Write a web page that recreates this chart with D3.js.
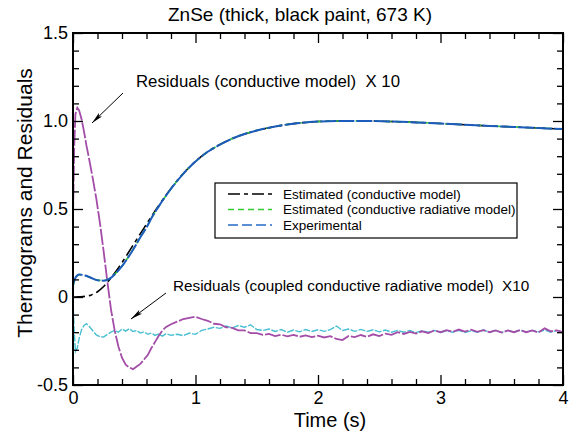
<!DOCTYPE html>
<html><head><meta charset="utf-8">
<script src="https://cdn.jsdelivr.net/npm/d3@7"></script>
<style>body{margin:0;background:#fff}svg{display:block}text{font-family:"Liberation Sans",Arial,sans-serif;white-space:pre}</style>
</head><body><svg id="c" width="575" height="433"></svg>
<script>
const titleText = "ZnSe (thick, black paint, 673 K)";
const xLabel = "Time (s)";
const yLabel = "Thermograms and Residuals";
const xMajor = [0, 1, 2, 3, 4];
const xMinor = [0.2,0.4,0.6,0.8,1.2,1.4,1.6,1.8,2.2,2.4,2.6,2.8,3.2,3.4,3.6,3.8];
const yMajor = [-0.5, 0, 0.5, 1.0, 1.5];
const yMajorLabels = ["-0.5", "0", "0.5", "1.0", "1.5"];
const yMinor = [-0.4,-0.3,-0.2,-0.1,0.1,0.2,0.3,0.4,0.6,0.7,0.8,0.9,1.1,1.2,1.3,1.4];

const tThermo = [0,0.02,0.05,0.1,0.15,0.2,0.25,0.3,0.35,0.4,0.45,0.5,0.55,0.6,0.65,0.7,0.8,0.9,1.0,1.1,1.2,1.3,1.4,1.5,1.6,1.7,1.8,1.9,2.0,2.2,2.4,2.6,2.8,3.0,3.2,3.4,3.6,3.8,4.0];
const experimental = [0.07,0.11,0.128,0.122,0.108,0.095,0.093,0.105,0.135,0.175,0.225,0.28,0.34,0.395,0.46,0.515,0.615,0.7,0.77,0.825,0.866,0.9,0.926,0.946,0.962,0.975,0.985,0.992,0.997,1.0,1.0,0.997,0.992,0.986,0.979,0.972,0.966,0.96,0.954];
const estCoupled = [0.06,0.105,0.126,0.121,0.108,0.096,0.094,0.106,0.136,0.176,0.226,0.281,0.34,0.396,0.46,0.515,0.615,0.7,0.77,0.825,0.866,0.9,0.926,0.946,0.962,0.975,0.985,0.992,0.997,1.0,1.0,0.997,0.992,0.986,0.979,0.972,0.966,0.96,0.954];
const estConductive = [0,0,0.001,0.004,0.012,0.03,0.06,0.1,0.145,0.195,0.25,0.305,0.36,0.414,0.468,0.52,0.617,0.701,0.771,0.826,0.867,0.9,0.926,0.946,0.962,0.975,0.985,0.992,0.997,1.0,1.0,0.997,0.992,0.986,0.979,0.972,0.966,0.96,0.954];

const tRes = [0,0.01,0.02,0.035,0.05,0.07,0.09,0.11,0.13,0.16,0.19,0.22,0.25,0.28,0.31,0.34,0.37,0.40,0.43,0.46,0.49,0.52,0.55,0.58,0.61,0.64,0.67,0.70,0.73,0.76,0.80,0.85,0.90,0.95,
1.00,1.05,1.10,1.15,1.20,1.25,1.30,1.35,1.40,1.45,1.50,1.55,1.60,1.65,1.70,1.75,1.80,1.85,1.90,1.95,2.00,2.05,2.10,2.15,2.20,2.25,2.30,2.35,2.40,2.45,2.50,2.55,2.60,2.65,2.70,2.75,2.80,2.85,2.90,2.95,3.00,3.05,3.10,3.15,3.20,3.25,3.30,3.35,3.40,3.45,3.50,3.55,3.60,3.65,3.70,3.75,3.80,3.85,3.90,3.95,4.00];
const resConductive = [0.45,0.86,1.04,1.075,1.06,1.01,0.94,0.86,0.79,0.68,0.56,0.42,0.26,0.09,-0.07,-0.19,-0.28,-0.345,-0.385,-0.40,-0.41,-0.395,-0.38,-0.355,-0.33,-0.29,-0.255,-0.22,-0.19,-0.17,-0.155,-0.14,-0.125,-0.118,
-0.112,-0.125,-0.135,-0.152,-0.155,-0.172,-0.175,-0.19,-0.19,-0.205,-0.205,-0.215,-0.21,-0.222,-0.214,-0.224,-0.215,-0.226,-0.218,-0.228,-0.22,-0.23,-0.222,-0.238,-0.245,-0.222,-0.228,-0.216,-0.226,-0.212,-0.222,-0.208,-0.215,-0.2,-0.21,-0.198,-0.208,-0.195,-0.205,-0.19,-0.2,-0.188,-0.198,-0.185,-0.196,-0.186,-0.198,-0.188,-0.2,-0.19,-0.202,-0.19,-0.2,-0.188,-0.2,-0.19,-0.202,-0.178,-0.195,-0.19,-0.2];
const resCoupled = [-0.02,-0.2,-0.31,-0.29,-0.235,-0.185,-0.162,-0.152,-0.165,-0.19,-0.215,-0.225,-0.228,-0.212,-0.2,-0.19,-0.2,-0.182,-0.194,-0.18,-0.196,-0.19,-0.205,-0.198,-0.212,-0.205,-0.218,-0.21,-0.222,-0.208,-0.218,-0.212,-0.22,-0.205,
-0.212,-0.19,-0.182,-0.172,-0.178,-0.165,-0.175,-0.162,-0.172,-0.158,-0.185,-0.19,-0.182,-0.196,-0.185,-0.2,-0.188,-0.198,-0.185,-0.196,-0.186,-0.195,-0.185,-0.165,-0.19,-0.182,-0.195,-0.184,-0.196,-0.186,-0.198,-0.188,-0.2,-0.19,-0.2,-0.19,-0.202,-0.192,-0.2,-0.19,-0.202,-0.192,-0.2,-0.19,-0.202,-0.192,-0.2,-0.188,-0.2,-0.19,-0.202,-0.19,-0.2,-0.188,-0.2,-0.19,-0.198,-0.188,-0.2,-0.19,-0.198];

const legendLabels = ["Estimated (conductive model)", "Estimated (conductive radiative model)", "Experimental"];
const note1 = "Residuals (conductive model)  X 10";
const note2 = "Residuals (coupled conductive radiative model)  X10";

const svg = d3.select("#c");
const L = 73, R = 563, T = 33, B = 385;
const x = d3.scaleLinear().domain([0, 4]).range([L, R]);
const y = d3.scaleLinear().domain([-0.5, 1.5]).range([B, T]);

const defs = svg.append("defs");
defs.append("clipPath").attr("id","clip").append("rect").attr("x",L).attr("y",T).attr("width",R-L).attr("height",B-T);
defs.append("marker").attr("id","arr").attr("viewBox","0 0 12 6").attr("refX",12).attr("refY",3)
  .attr("markerWidth",12).attr("markerHeight",6).attr("markerUnits","userSpaceOnUse").attr("orient","auto")
  .append("path").attr("d","M0,0.6 L12,3 L0,5.4 L2.5,3 Z").attr("fill","#000");

const g = svg.append("g").attr("clip-path","url(#clip)");
const mk = (ts, vs, c) => d3.line().x((d,i)=>x(ts[i])).y(d=>y(d)).curve(c || d3.curveMonotoneX)(vs);

g.append("path").attr("d", mk(tRes, resCoupled, d3.curveLinear)).attr("fill","none").attr("stroke","#46bfd2").attr("stroke-width",1.4).attr("stroke-dasharray","7,1.5");
g.append("path").attr("d", mk(tRes, resConductive, d3.curveLinear)).attr("fill","none").attr("stroke","#a34ca8").attr("stroke-width",1.8).attr("stroke-dasharray","16,2");
g.append("path").attr("d", mk(tThermo, estConductive)).attr("fill","none").attr("stroke","#000").attr("stroke-width",1.6).attr("stroke-dasharray","12,4,4,4");
g.append("path").attr("d", mk(tThermo, estCoupled)).attr("fill","none").attr("stroke","#33cc33").attr("stroke-width",1.6).attr("stroke-dasharray","6,4");
g.append("path").attr("d", mk(tThermo, experimental)).attr("fill","none").attr("stroke","#1d5cbc").attr("stroke-width",2).attr("stroke-dasharray","16,2");

function styleAxis(sel){ sel.select(".domain").remove(); sel.selectAll("line").attr("stroke","#000").attr("stroke-width",1.3);
  sel.selectAll("text").attr("font-size",18).attr("fill","#000"); }
svg.append("g").attr("transform",`translate(0,${B})`).call(d3.axisBottom(x).tickValues(xMajor).tickSize(-10).tickPadding(6).tickFormat(d3.format("d"))).call(styleAxis);
svg.append("g").attr("transform",`translate(0,${B})`).call(d3.axisBottom(x).tickValues(xMinor).tickSize(-6).tickFormat("")).call(styleAxis);
svg.append("g").attr("transform",`translate(0,${T})`).call(d3.axisTop(x).tickValues(xMajor).tickSize(-10).tickFormat("")).call(styleAxis);
svg.append("g").attr("transform",`translate(0,${T})`).call(d3.axisTop(x).tickValues(xMinor).tickSize(-6).tickFormat("")).call(styleAxis);
svg.append("g").attr("transform",`translate(${L},0)`).call(d3.axisLeft(y).tickValues(yMajor).tickSize(-10).tickPadding(5).tickFormat((d,i)=>yMajorLabels[i])).call(styleAxis);
svg.append("g").attr("transform",`translate(${L},0)`).call(d3.axisLeft(y).tickValues(yMinor).tickSize(-6).tickFormat("")).call(styleAxis);
svg.append("g").attr("transform",`translate(${R},0)`).call(d3.axisRight(y).tickValues(yMajor).tickSize(-10).tickFormat("")).call(styleAxis);
svg.append("g").attr("transform",`translate(${R},0)`).call(d3.axisRight(y).tickValues(yMinor).tickSize(-6).tickFormat("")).call(styleAxis);
svg.append("rect").attr("x",L).attr("y",T).attr("width",R-L).attr("height",B-T).attr("fill","none").attr("stroke","#000").attr("stroke-width",2);

svg.append("text").attr("x",300).attr("y",21).attr("text-anchor","middle").attr("font-size",19).text(titleText);
svg.append("text").attr("x",330).attr("y",427).attr("text-anchor","middle").attr("font-size",20).text(xLabel);
svg.append("text").attr("transform","translate(32,203) rotate(-90)").attr("text-anchor","middle").attr("font-size",21).text(yLabel);

svg.append("text").attr("x",136).attr("y",87).attr("font-size",16.8).text(note1);
svg.append("line").attr("x1",123).attr("y1",93).attr("x2",92).attr("y2",123).attr("stroke","#000").attr("stroke-width",1).attr("marker-end","url(#arr)");
svg.append("text").attr("x",173).attr("y",291).attr("font-size",15.3).text(note2);
svg.append("line").attr("x1",166).attr("y1",293).attr("x2",131).attr("y2",319).attr("stroke","#000").attr("stroke-width",1).attr("marker-end","url(#arr)");

const lg = svg.append("g");
lg.append("rect").attr("x",215).attr("y",183).attr("width",302).attr("height",55).attr("fill","#fff").attr("stroke","#000").attr("stroke-width",1.2);
const lstyles = [{c:"#000",d:"12,4,4,4",w:1.4},{c:"#33cc33",d:"6,4",w:1.4},{c:"#5a8fd6",d:"10,4",w:2}];
legendLabels.forEach((lab,i)=>{
  const yy = 194 + i*15.5;
  lg.append("line").attr("x1",228).attr("x2",272).attr("y1",yy).attr("y2",yy).attr("stroke",lstyles[i].c).attr("stroke-width",lstyles[i].w).attr("stroke-dasharray",lstyles[i].d);
  lg.append("text").attr("x",283).attr("y",yy+4.5).attr("font-size",13.5).text(lab);
});
</script></body></html>
